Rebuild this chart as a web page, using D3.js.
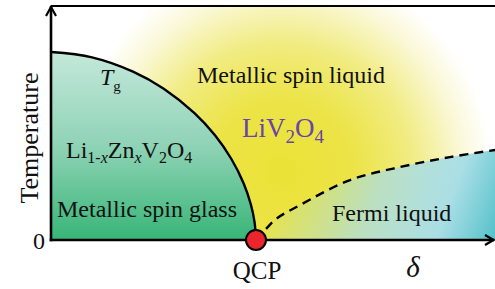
<!DOCTYPE html>
<html>
<head>
<meta charset="utf-8">
<script src="https://cdn.jsdelivr.net/npm/d3@7"></script>
<style>
  html, body { margin: 0; padding: 0; background: #fff; }
  svg { display: block; }
</style>
</head>
<body>
<div id="chart"></div>
<script>
// phase diagram: temperature vs doping delta

// Tg boundary (spin glass)
const tgDelta = [0, 0.2, 0.4, 0.55, 0.7, 0.8, 0.88, 0.94, 0.975, 0.993, 1];
const tgTemp  = [1, 0.972, 0.896, 0.805, 0.675, 0.557, 0.431, 0.301, 0.189, 0.095, 0];

// crossover to Fermi liquid (dashed)
const coDelta = [1, 1.044, 1.098, 1.215, 1.459, 1.702, 1.946, 2.166];
const coTemp  = [0, 0.053, 0.112, 0.186, 0.319, 0.388, 0.441, 0.479];

const qcpDelta = 1;
const deltaMax = 2.166;
const tempMax = 1.245;

// pick an installed serif face (Times-like preferred)
const pickFont = () => {
  const ctx = document.createElement("canvas").getContext("2d");
  const probe = "Metallic spin liquid QCP 0123";
  const w = f => { ctx.font = "24px " + f; return ctx.measureText(probe).width; };
  const cands = ["Liberation Serif", "Times New Roman", "Tinos", "Nimbus Roman", "DejaVu Serif", "Noto Serif", "FreeSerif"];
  for (const c of cands) {
    if (w("'" + c + "', monospace") !== w("monospace")) return "'" + c + "', serif";
  }
  return "serif";
};
const FONT = pickFont();

const W = 495, H = 289;
const x = d3.scaleLinear().domain([0, deltaMax]).range([51, 495]);
const y = d3.scaleLinear().domain([0, tempMax]).range([240, 6]);

const svg = d3.select("#chart").append("svg")
  .attr("width", W).attr("height", H)
  .attr("viewBox", "0 0 " + W + " " + H)
  .style("font-family", FONT);

const defs = svg.append("defs");

// yellow glow
const rg = defs.append("radialGradient").attr("id", "glow")
  .attr("gradientUnits", "userSpaceOnUse")
  .attr("cx", 282).attr("cy", 172).attr("r", 210);
[[0, "#ebe236"], [0.35, "#ece448"], [0.62, "#f1ec83"], [0.85, "#faf8d6"], [1, "#ffffff"]]
  .forEach(s => rg.append("stop").attr("offset", s[0]).attr("stop-color", s[1]));

// spin glass green
const gg = defs.append("linearGradient").attr("id", "glass")
  .attr("gradientUnits", "userSpaceOnUse")
  .attr("x1", 0).attr("y1", y(1)).attr("x2", 0).attr("y2", y(0));
[[0, "#c4e8db"], [0.5, "#8fd3b6"], [1, "#38b577"]]
  .forEach(s => gg.append("stop").attr("offset", s[0]).attr("stop-color", s[1]));

// fermi liquid blue overlay
const fg = defs.append("linearGradient").attr("id", "fermi")
  .attr("gradientUnits", "userSpaceOnUse")
  .attr("x1", 275).attr("y1", 165).attr("x2", 495).attr("y2", 248);
[[0, "#a8dde2", 0], [0.45, "#aadde0", 0.75], [0.75, "#a6dde6", 0.95], [1, "#4fbfc8", 1]]
  .forEach(s => fg.append("stop").attr("offset", s[0]).attr("stop-color", s[1]).attr("stop-opacity", s[2]));

// background glow
svg.append("rect")
  .attr("x", x(0)).attr("y", y(tempMax))
  .attr("width", x(deltaMax) - x(0)).attr("height", y(0) - y(tempMax))
  .attr("fill", "url(#glow)");

const tgData = tgDelta.map((d, i) => [d, tgTemp[i]]);
const coData = coDelta.map((d, i) => [d, coTemp[i]]);

const curve = d3.curveCatmullRom.alpha(0.5);
const area = d3.area().x(d => x(d[0])).y0(y(0)).y1(d => y(d[1])).curve(curve);
const line = d3.line().x(d => x(d[0])).y(d => y(d[1])).curve(curve);

svg.append("path").attr("d", area(tgData)).attr("fill", "url(#glass)");
svg.append("path").attr("d", area(coData)).attr("fill", "url(#fermi)");

svg.append("path").attr("d", line(tgData))
  .attr("fill", "none").attr("stroke", "#000").attr("stroke-width", 2.4);
svg.append("path").attr("d", line(coData))
  .attr("fill", "none").attr("stroke", "#000").attr("stroke-width", 2.4)
  .attr("stroke-dasharray", "9,6");

// axes
const ax = svg.append("g").attr("stroke", "#000").attr("fill", "none")
  .attr("stroke-width", 2.6).attr("stroke-linecap", "butt");
ax.append("line").attr("x1", x(0)).attr("y1", y(0) + 1.3).attr("x2", x(0)).attr("y2", y(tempMax));
ax.append("line").attr("x1", x(0)).attr("y1", y(tempMax)).attr("x2", W).attr("y2", y(tempMax)).attr("stroke-width", 2.2);
ax.append("line").attr("x1", x(0) - 1.3).attr("y1", y(0)).attr("x2", x(deltaMax) - 1).attr("y2", y(0));
ax.append("path").attr("d", "M" + (x(0) - 5) + "," + (y(tempMax) + 10) + "L" + x(0) + "," + (y(tempMax) + 1) + "L" + (x(0) + 5) + "," + (y(tempMax) + 10))
  .attr("stroke-width", 2.2);
ax.append("path").attr("d", "M" + (x(deltaMax) - 10) + "," + (y(0) - 5) + "L" + (x(deltaMax) - 1.5) + "," + y(0) + "L" + (x(deltaMax) - 10) + "," + (y(0) + 5))
  .attr("stroke-width", 2.2);

// quantum critical point
svg.append("circle").attr("cx", x(qcpDelta)).attr("cy", y(0)).attr("r", 10)
  .attr("fill", "#ea252d").attr("stroke", "#000").attr("stroke-width", 2);

// labels
const t = (px, py, size, anchor) => svg.append("text")
  .attr("x", px).attr("y", py).attr("font-size", size).attr("text-anchor", anchor || "start")
  .style("font-family", FONT).attr("fill", "#111");

t(38, 138, 26, "middle").attr("transform", "rotate(-90,38,138)").text("Temperature");
t(45, 249, 24, "end").text("0");
t(x(qcpDelta) + 1, 279, 25, "middle").text("QCP");
t(413, 277, 29, "middle").attr("font-style", "italic").text("δ");

const tg = t(100, 85, 24);
tg.append("tspan").attr("font-style", "italic").text("T");
tg.append("tspan").attr("font-size", 15).attr("dy", 6).text("g");

t(197, 83, 24).text("Metallic spin liquid");

const liv = t(242, 137, 27).attr("fill", "#6a44a6");
liv.append("tspan").text("LiV");
liv.append("tspan").attr("font-size", 19).attr("dy", 6).text("2");
liv.append("tspan").attr("dy", -6).text("O");
liv.append("tspan").attr("font-size", 19).attr("dy", 6).text("4");

const lz = t(66, 158, 24);
lz.append("tspan").text("Li");
lz.append("tspan").attr("font-size", 16).attr("dy", 5).text("1-");
lz.append("tspan").attr("font-size", 16).attr("font-style", "italic").text("x");
lz.append("tspan").attr("dy", -5).text("Zn");
lz.append("tspan").attr("font-size", 16).attr("font-style", "italic").attr("dy", 5).text("x");
lz.append("tspan").attr("dy", -5).text("V");
lz.append("tspan").attr("font-size", 16).attr("dy", 5).text("2");
lz.append("tspan").attr("dy", -5).text("O");
lz.append("tspan").attr("font-size", 16).attr("dy", 5).text("4");

t(57, 217, 24).text("Metallic spin glass");
t(332, 221, 24).text("Fermi liquid");
</script>
</body>
</html>
